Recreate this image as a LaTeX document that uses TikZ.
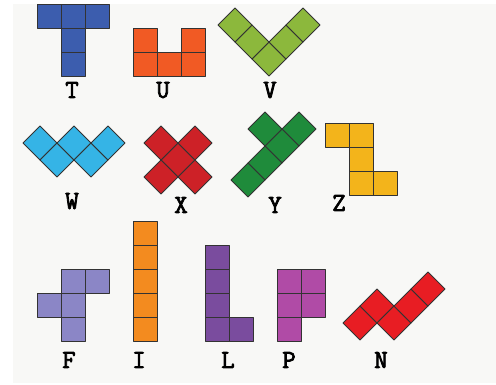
\documentclass[tikz,border=0pt]{standalone}
\usepackage{fontspec}
\newfontfamily\labelfont{Latin Modern Mono}[FakeBold=3]
\usepackage{xcolor}
\definecolor{tblue}{HTML}{3C5DAE}
\definecolor{uorange}{HTML}{F15A24}
\definecolor{vgreen}{HTML}{8CB83C}
\definecolor{wsky}{HTML}{35B4E6}
\definecolor{xred}{HTML}{CD2127}
\definecolor{ygreen}{HTML}{1F8B3B}
\definecolor{zgold}{HTML}{F3B41B}
\definecolor{flav}{HTML}{8B86C6}
\definecolor{iorange}{HTML}{F38B1F}
\definecolor{lpurple}{HTML}{7A4C9E}
\definecolor{pmagenta}{HTML}{B04BA6}
\definecolor{nred}{HTML}{E81D23}
\definecolor{paper}{HTML}{F8F8F6}

\begin{document}
\begin{tikzpicture}[x=1pt,y=-1pt,
  cell/.style={draw=black!80,line width=0.8pt,line join=round},
  letter/.style={font=\labelfont\fontsize{26}{26}\selectfont,inner sep=0pt}]
\fill[white] (0,0) rectangle (496,385);
\fill[paper] (13,4) rectangle (496,383);
% square pieces
\foreach \cx/\cy in {37/4,61/4,85/4,61/28,61/52}
  \draw[cell,fill=tblue] (\cx,\cy) rectangle ++(24,24);
\foreach \cx/\cy in {133/28,181/28,133/52,157/52,181/52}
  \draw[cell,fill=uorange] (\cx,\cy) rectangle ++(24,24);
\foreach \cx/\cy in {325/123,349/123,349/147,349/171,373/171}
  \draw[cell,fill=zgold] (\cx,\cy) rectangle ++(24,24);
\foreach \cx/\cy in {61/269,85/269,37/293,61/293,61/317}
  \draw[cell,fill=flav] (\cx,\cy) rectangle ++(24,24);
\foreach \cy in {221,245,269,293,317}
  \draw[cell,fill=iorange] (133,\cy) rectangle ++(24,24);
\foreach \cx/\cy in {205/245,205/269,205/293,205/317,229/317}
  \draw[cell,fill=lpurple] (\cx,\cy) rectangle ++(24,24);
\foreach \cx/\cy in {277/269,301/269,277/293,301/293,277/317}
  \draw[cell,fill=pmagenta] (\cx,\cy) rectangle ++(24,24);
% diamond pieces (centres)
\foreach \col/\cells in {vgreen/{269/59,252/42,235/25,286/42,303/25},
    wsky/{40/143,57/160,74/143,91/160,108/143},
    xred/{178/160,161/143,195/143,161/177,195/177},
    ygreen/{299/129,282/146,265/163,248/180,265/129},
    nred/{360/323,377/306,394/323,411/306,428/289}}
  \foreach \cx/\cy in \cells
    \draw[cell,fill=\col] (\cx-17,\cy) -- ++(17,-17) -- ++(17,17) -- ++(-17,17) -- cycle;
% labels
\node[letter] (lT) at (72,90) {T};
\node[letter] (lU) at (163,90) {U};
\node[letter] (lV) at (270,90) {V};
\node[letter] (lW) at (72,201) {W};
\node[letter] (lX) at (181,205) {X};
\node[letter] (lY) at (275,205) {Y};
\node[letter] (lZ) at (339,203) {Z};
\node[letter] (lF) at (69,360) {F};
\node[letter] (lI) at (139,360) {I};
\node[letter] (lL) at (228,360) {L};
\node[letter] (lP) at (289,360) {P};
\node[letter] (lN) at (381,360) {N};
\end{tikzpicture}
\end{document}
